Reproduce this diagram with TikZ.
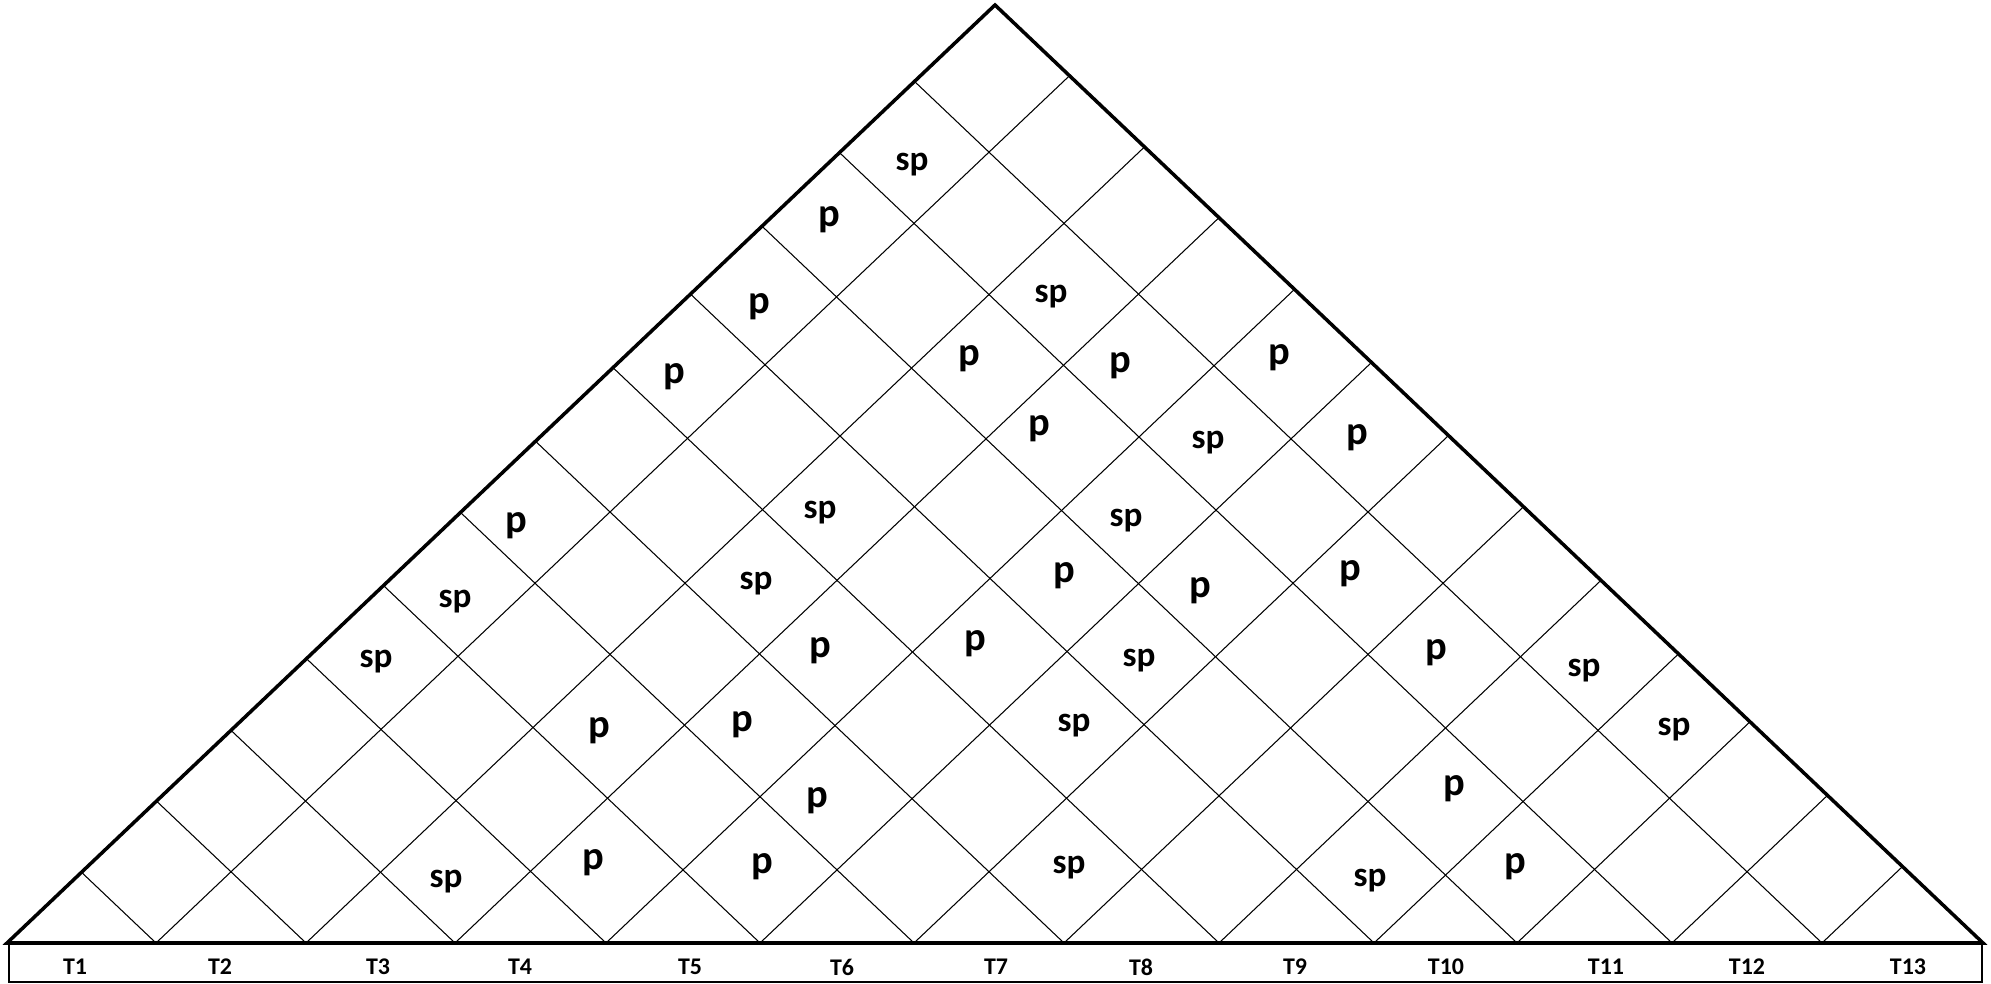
\documentclass[tikz,border=0pt]{standalone}
\usepackage{fontspec}
\setmainfont{Carlito}
\usetikzlibrary{calc}

\begin{document}
\begin{tikzpicture}[
    every node/.style={font=\bfseries, inner sep=0pt},
    side/.style={line width=1pt, line join=miter},
    gridline/.style={line width=0.3pt},
    tokbox/.style={line width=0.5pt},
    tok/.style={font=\fontsize{6.8}{8}\selectfont\bfseries},
    plab/.style={font=\fontsize{11.5}{13}\selectfont\bfseries},
    splab/.style={font=\fontsize{10}{12}\selectfont\bfseries}
]
\useasboundingbox (0,0) rectangle (19.91,9.84);

% Triangle corners
\coordinate (left) at (0.07,0.41);
\coordinate (right) at (19.83,0.41);
\coordinate (apex) at (9.95,9.79);

% Token strip
\draw[tokbox] (0.09,0.02) rectangle (19.82,0.41);

\node[tok] (t1) at (0.75,0.17) {T1};
\node[tok] (t2) at (2.20,0.17) {T2};
\node[tok] (t3) at (3.78,0.17) {T3};
\node[tok] (t4) at (5.20,0.17) {T4};
\node[tok] (t5) at (6.90,0.17) {T5};
\node[tok] (t6) at (8.42,0.17) {T6};
\node[tok] (t7) at (9.96,0.17) {T7};
\node[tok] (t8) at (11.41,0.17) {T8};
\node[tok] (t9) at (12.95,0.17) {T9};
\node[tok] (t10) at (14.46,0.17) {T10};
\node[tok] (t11) at (16.06,0.17) {T11};
\node[tok] (t12) at (17.47,0.17) {T12};
\node[tok] (t13) at (19.08,0.17) {T13};

% Chart grid, one V per token boundary
\foreach \k/\x in {1/1.56, 2/3.06, 3/4.55, 4/6.06, 5/7.60, 6/9.14,
                   7/10.64, 8/12.19, 9/13.74, 10/15.17, 11/16.72, 12/18.22} {
    \pgfmathsetmacro{\f}{(\x-0.07)/19.76}
    \coordinate (b\k) at (\x,0.41);
    \draw[gridline] ($(left)!\f!(apex)$) -- (b\k) -- ($(apex)!\f!(right)$);
}

% Outline
\draw[side] (left) -- (apex) -- (right) -- cycle;

% Span labels, named by first and last token
\node[splab] (c1x12) at (9.12,8.19) {sp};
\node[plab] (c1x11) at (8.29,7.64) {p};
\node[plab] (c1x10) at (7.59,6.77) {p};
\node[plab] (c1x9) at (6.74,6.07) {p};
\node[splab] (c3x12) at (10.51,6.87) {sp};
\node[plab] (c3x11) at (9.69,6.25) {p};
\node[plab] (c4x12) at (11.20,6.18) {p};
\node[plab] (c5x13) at (12.79,6.26) {p};
\node[plab] (c4x11) at (10.39,5.55) {p};
\node[splab] (c5x12) at (12.08,5.41) {sp};
\node[plab] (c6x13) at (13.57,5.46) {p};
\node[plab] (c1x7) at (5.16,4.58) {p};
\node[splab] (c3x9) at (8.20,4.71) {sp};
\node[splab] (c5x11) at (11.26,4.63) {sp};
\node[splab] (c1x6) at (4.55,3.82) {sp};
\node[splab] (c3x8) at (7.56,4.00) {sp};
\node[plab] (c5x10) at (10.64,4.08) {p};
\node[plab] (c6x11) at (12.00,3.93) {p};
\node[plab] (c7x12) at (13.50,4.10) {p};
\node[splab] (c1x5) at (3.76,3.22) {sp};
\node[plab] (c4x8) at (8.20,3.33) {p};
\node[plab] (c5x9) at (9.75,3.40) {p};
\node[splab] (c6x10) at (11.39,3.23) {sp};
\node[plab] (c8x12) at (14.36,3.31) {p};
\node[splab] (c9x13) at (15.84,3.13) {sp};
\node[plab] (c3x6) at (5.99,2.53) {p};
\node[plab] (c4x7) at (7.42,2.59) {p};
\node[splab] (c6x9) at (10.74,2.58) {sp};
\node[splab] (c10x13) at (16.74,2.54) {sp};
\node[plab] (c5x7) at (8.17,1.83) {p};
\node[plab] (c9x11) at (14.54,1.95) {p};
\node[splab] (c3x4) at (4.46,1.02) {sp};
\node[plab] (c4x5) at (5.93,1.21) {p};
\node[plab] (c5x6) at (7.62,1.17) {p};
\node[splab] (c7x8) at (10.69,1.16) {sp};
\node[splab] (c9x10) at (13.70,1.03) {sp};
\node[plab] (c10x11) at (15.15,1.17) {p};

\end{tikzpicture}
\end{document}
